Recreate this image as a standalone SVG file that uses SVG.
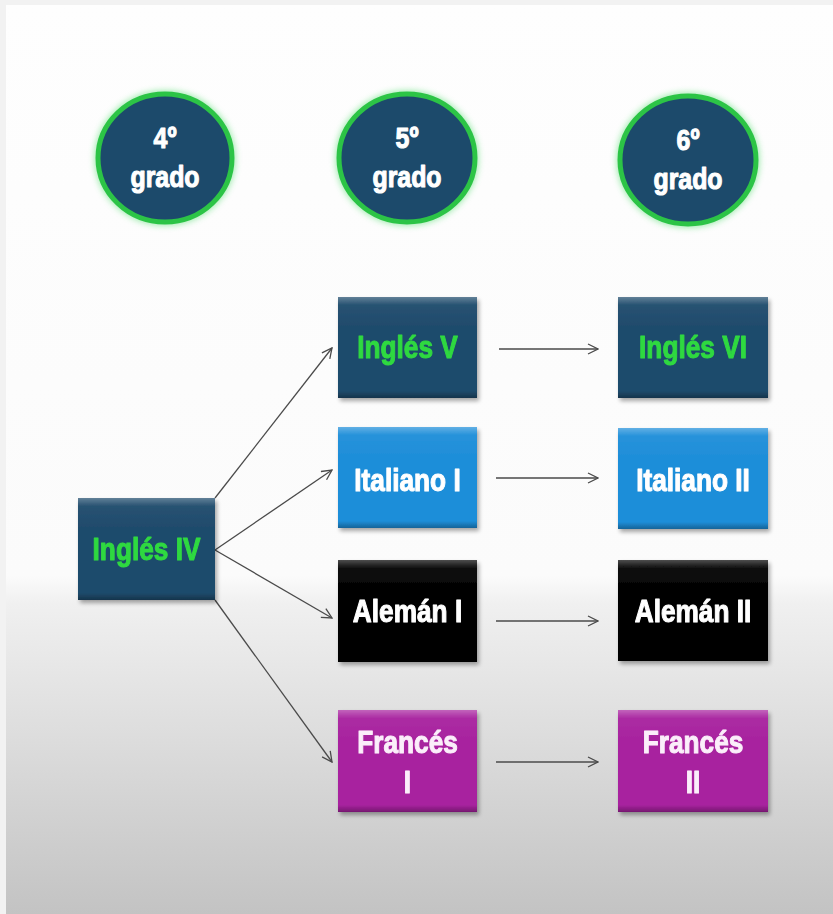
<svg xmlns="http://www.w3.org/2000/svg" width="833" height="914" viewBox="0 0 833 914">
  <defs>
    <linearGradient id="bg" x1="0" y1="0" x2="0" y2="914" gradientUnits="userSpaceOnUse">
      <stop offset="0" stop-color="#fefefe"/>
      <stop offset="0.63" stop-color="#fbfbfb"/>
      <stop offset="0.66" stop-color="#f0f0f0"/>
      <stop offset="1" stop-color="#c3c3c3"/>
    </linearGradient>
    <linearGradient id="bevel" x1="0" y1="0" x2="0" y2="1">
      <stop offset="0" stop-color="#ffffff" stop-opacity="0.3"/>
      <stop offset="0.08" stop-color="#ffffff" stop-opacity="0.04"/>
      <stop offset="0.3" stop-color="#ffffff" stop-opacity="0"/>
      <stop offset="0.93" stop-color="#000000" stop-opacity="0"/>
      <stop offset="1" stop-color="#000000" stop-opacity="0.3"/>
    </linearGradient>
    <filter id="shadow" x="-10%" y="-10%" width="125%" height="130%">
      <feGaussianBlur in="SourceAlpha" stdDeviation="2"/>
      <feOffset dx="2" dy="3" result="b"/>
      <feComponentTransfer><feFuncA type="linear" slope="0.35"/></feComponentTransfer>
      <feMerge><feMergeNode/><feMergeNode in="SourceGraphic"/></feMerge>
    </filter>
    <filter id="glow" x="-20%" y="-20%" width="140%" height="140%">
      <feGaussianBlur stdDeviation="3"/>
    </filter>
    <marker id="arr" viewBox="0 0 12 12" refX="11" refY="6" markerWidth="12" markerHeight="12" markerUnits="userSpaceOnUse" orient="auto">
      <path d="M1,1 L11,6 L1,11" fill="none" stroke="#4a4a4a" stroke-width="1.3"/>
    </marker>
    <style>
      .circ { fill: #1c4a6b; stroke: #2cc446; stroke-width: 5; }
      .halo { fill: none; stroke: #3bd85a; stroke-width: 7; opacity: 0.5; }
      .box { filter: url(#shadow); }
      .bv { fill: url(#bevel); }
      .navy { fill: #1f4b6c; }
      .sky { fill: #1e8ed9; }
      .blk { fill: #030303; }
      .mag { fill: #a8239f; }
      .t { font-family: "Liberation Sans", Arial, sans-serif; font-weight: bold; text-anchor: middle; stroke-width: 1.1; stroke-linejoin: round; }
      .tc { font-size: 30px; fill: #ffffff; stroke: #ffffff; }
      .tb { font-size: 32px; fill: #ffffff; stroke: #ffffff; }
      .g { fill: #2fd940; stroke: #2fd940; }
      .wl { fill: #fbeefa; stroke: #fbeefa; }
      .conn line { stroke: #4a4a4a; stroke-width: 1.3; marker-end: url(#arr); }
    </style>
  </defs>

  <rect x="0" y="0" width="833" height="914" fill="#f2f2f2"/>
  <rect x="6" y="5" width="827" height="909" fill="url(#bg)"/>

  <g id="grado4">
    <ellipse class="halo" cx="165" cy="158" rx="67" ry="64" filter="url(#glow)"/>
    <ellipse class="circ" cx="165" cy="158" rx="67" ry="64"/>
    <text class="t tc" transform="translate(165,148) scale(0.83,1)">4º</text>
    <text class="t tc" transform="translate(165,187) scale(0.83,1)">grado</text>
  </g>
  <g id="grado5">
    <ellipse class="halo" cx="407" cy="158" rx="68" ry="64" filter="url(#glow)"/>
    <ellipse class="circ" cx="407" cy="158" rx="68" ry="64"/>
    <text class="t tc" transform="translate(407,148) scale(0.83,1)">5º</text>
    <text class="t tc" transform="translate(407,187) scale(0.83,1)">grado</text>
  </g>
  <g id="grado6">
    <ellipse class="halo" cx="688" cy="160" rx="68" ry="64" filter="url(#glow)"/>
    <ellipse class="circ" cx="688" cy="160" rx="68" ry="64"/>
    <text class="t tc" transform="translate(688,150) scale(0.83,1)">6º</text>
    <text class="t tc" transform="translate(688,189) scale(0.83,1)">grado</text>
  </g>

  <g id="connectors" class="conn">
    <line x1="215" y1="498" x2="332" y2="348"/>
    <line x1="215" y1="550" x2="332" y2="470"/>
    <line x1="215" y1="550" x2="332" y2="618"/>
    <line x1="215" y1="600" x2="332" y2="762"/>
    <line x1="499" y1="349" x2="598" y2="349"/>
    <line x1="496" y1="478" x2="598" y2="478"/>
    <line x1="496" y1="621" x2="598" y2="621"/>
    <line x1="496" y1="762" x2="598" y2="762"/>
  </g>

  <g id="ingles4" class="box">
    <rect class="navy" x="78" y="498" width="137" height="102"/>
    <rect class="bv" x="78" y="498" width="137" height="102"/>
    <text class="t tb g" transform="translate(146.5,560) scale(0.82,1)">Inglés IV</text>
  </g>

  <g id="ingles5" class="box">
    <rect class="navy" x="338" y="297" width="139" height="101"/>
    <rect class="bv" x="338" y="297" width="139" height="101"/>
    <text class="t tb g" transform="translate(407.5,358) scale(0.82,1)">Inglés V</text>
  </g>
  <g id="italiano1" class="box">
    <rect class="sky" x="338" y="427" width="139" height="101"/>
    <rect class="bv" x="338" y="427" width="139" height="101"/>
    <text class="t tb" transform="translate(407.5,491) scale(0.82,1)">Italiano I</text>
  </g>
  <g id="aleman1" class="box">
    <rect class="blk" x="338" y="560" width="139" height="102"/>
    <rect class="bv" x="338" y="560" width="139" height="102"/>
    <text class="t tb" transform="translate(407.5,622) scale(0.82,1)">Alemán I</text>
  </g>
  <g id="frances1" class="box">
    <rect class="mag" x="338" y="710" width="139" height="102"/>
    <rect class="bv" x="338" y="710" width="139" height="102"/>
    <text class="t tb wl" transform="translate(407.5,753) scale(0.82,1)">Francés</text>
    <text class="t tb wl" transform="translate(407.5,793) scale(0.82,1)">I</text>
  </g>

  <g id="ingles6" class="box">
    <rect class="navy" x="618" y="297" width="150" height="101"/>
    <rect class="bv" x="618" y="297" width="150" height="101"/>
    <text class="t tb g" transform="translate(693,358) scale(0.82,1)">Inglés VI</text>
  </g>
  <g id="italiano2" class="box">
    <rect class="sky" x="618" y="428" width="150" height="101"/>
    <rect class="bv" x="618" y="428" width="150" height="101"/>
    <text class="t tb" transform="translate(693,491) scale(0.82,1)">Italiano II</text>
  </g>
  <g id="aleman2" class="box">
    <rect class="blk" x="618" y="560" width="150" height="101"/>
    <rect class="bv" x="618" y="560" width="150" height="101"/>
    <text class="t tb" transform="translate(693,622) scale(0.82,1)">Alemán II</text>
  </g>
  <g id="frances2" class="box">
    <rect class="mag" x="618" y="710" width="150" height="102"/>
    <rect class="bv" x="618" y="710" width="150" height="102"/>
    <text class="t tb wl" transform="translate(693,753) scale(0.82,1)">Francés</text>
    <text class="t tb wl" transform="translate(693,793) scale(0.82,1)">II</text>
  </g>
</svg>
